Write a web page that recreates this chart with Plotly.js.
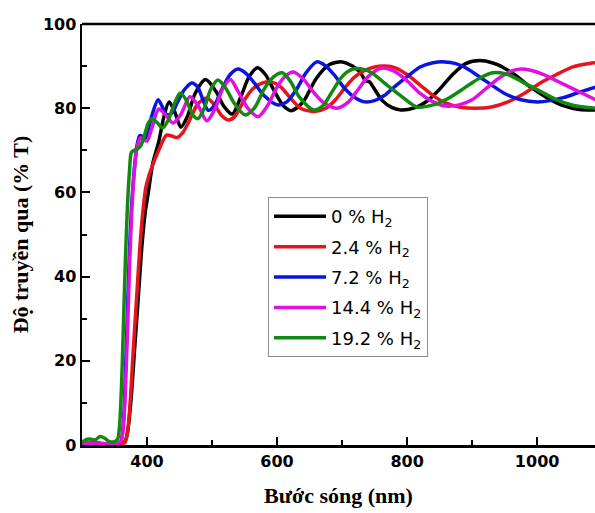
<!DOCTYPE html>
<html>
<head>
<meta charset="utf-8">
<script src="https://cdn.plot.ly/plotly-3.0.1.min.js"></script>
<style>html,body{margin:0;padding:0;background:#fff;overflow:hidden;}</style>
</head>
<body>
<div id="chart" style="width:595px;height:513px;"></div>
<script>
// Series names
const seriesNames = ["0 % H<sub>2</sub>", "2.4 % H<sub>2</sub>", "7.2 % H<sub>2</sub>", "14.4 % H<sub>2</sub>", "19.2 % H<sub>2</sub>"];

// 0 % H2 (black)
const wl0 = [300,310,320,330,340,350,360,366,370,375,381,387,392,397,402,409,418,426,434,443,452,462,474,490,506,518,531,545,557,570,582,596,610,622,640,660,680,700,716,728,736,742,750,762,776,790,810,830,850,870,890,915,940,965,990,1015,1040,1065,1090];
const T0  = [0.3,0.4,0.5,0.3,0.3,0.2,0.3,0.8,3,10,23,36,47,55,60,67,72,78,81.5,79,75.5,78,83.5,86.8,84,80.5,78.6,83,87.5,89.6,88,84,80.5,79.4,81.5,87,90.3,91,90,88.5,86.5,86.3,84.5,81.8,80.2,79.6,80,81.6,84.5,88,90.6,91.3,90.3,88,85,82.5,80.6,79.7,79.6];

// 2.4 % H2 (red)
const wl24 = [300,320,340,360,366,370,374,379,384,389,394,398,403,410,418,430,438,446,455,465,478,492,505,515,525,535,548,562,578,592,606,620,636,658,675,690,705,720,735,750,766,782,800,820,840,860,880,905,930,955,980,1005,1030,1055,1075,1090];
const T24  = [0.2,0.3,0.2,0.3,0.6,3,10,23,35,47,56,61,64,67,70,73.6,73.4,73.0,74.2,77,81,82.4,80.5,78.2,77.2,78,81.5,84.5,86,86.2,85,82.5,80,79.2,80,82,85,87.5,89,89.8,90,89.6,88,85.5,83,81.2,80.3,80,80.3,81.5,83.5,86,88,89.8,90.5,90.8];

// 7.2 % H2 (blue)
const wl72 = [300,320,340,355,360,364,367,370,373,376,379,382,385,389,393,397,402,408,417,423,430,438,447,458,469,478,486,494,503,515,528,540,552,565,580,600,615,630,645,661,675,690,705,720,735,750,765,780,800,820,840,858,875,890,910,930,950,975,1000,1020,1040,1060,1075,1090];
const T72  = [0.3,0.4,0.3,0.4,1,6,18,32,46,56,63,68,71.5,73.5,73.3,72.8,75,78.5,82,80.5,78.5,78.8,81.5,84.5,86,85,82,79.5,80.5,84.5,88,89.3,88.3,86,83,80.8,81.5,84.5,88.5,91,90,87.5,84.5,82.5,81.5,81.8,83,85,87.5,89.8,90.8,91,90.6,89.6,87.6,85.5,83.5,82,81.5,81.8,82.5,83.5,84.3,85];

// 14.4 % H2 (magenta)
const wl144 = [300,320,340,355,360,364,368,371,374,377,380,383,386,390,395,400,407,418,428,440,452,466,479,492,505,516,528,540,555,571,585,600,612,625,640,655,670,692,710,725,740,760,780,800,820,840,860,880,900,920,940,960,975,990,1010,1030,1050,1070,1090];
const T144  = [0.3,0.4,0.3,0.4,1,5,18,32,46,57,64,69,71.5,73,72.5,72.2,75,79.8,78.5,76.5,78.5,82.7,80.5,77,80,84.5,86.8,84,80,78,80.5,85,87.5,88.6,87,84,81.5,80,81.5,84.5,87.5,89.5,88.8,86.5,83.5,81.5,80.5,80.8,82,84.5,87,88.8,89.3,89,88,86.5,85,83.5,82];

// 19.2 % H2 (green)
const wl192 = [300,305,312,320,328,335,342,350,355,358,361,364,367,370,373,376,380,385,390,396,402,408,416,424,432,442,451,460,470,478,488,498,509,520,535,551,565,580,595,608,620,635,656,670,685,700,715,728,745,765,790,815,840,865,890,910,932,955,980,1005,1030,1055,1075,1090];
const T192  = [0.5,1.2,1.4,1.2,2,1.6,0.8,0.8,1.5,5,15,30,45,57,65,69.5,70,70.3,71,73.5,76.5,77.5,76.5,75.3,77,81,83.6,82,78.5,77.5,80,84.5,86.7,85,81,78.4,80,84.5,87.5,88.4,86.5,82.5,79.6,80.5,84,87.5,89.2,89.4,88.5,86,83,80.3,80.8,82.5,85,87,88.4,88,86,84,82,80.7,80.2,80];

// Axis tick values
const xTicks = [400, 600, 800, 1000];
const xMinor = [500, 700, 900];
const yTicks = [0, 20, 40, 60, 80, 100];
const yMinor = [10, 30, 50, 70, 90];

const colors = ["#000000", "#e8141c", "#0a14e0", "#e010e0", "#128a12"];
const xs = [wl0, wl24, wl72, wl144, wl192];
const ys = [T0, T24, T72, T144, T192];

const traces = xs.map((x, i) => ({
  x: x, y: ys[i], name: seriesNames[i], type: "scatter", mode: "lines",
  legendgroup: "g" + i,
  line: {color: colors[i], width: 3.5, shape: "spline", smoothing: 0.8}
}));

const tickFont = {family: "DejaVu Sans, Liberation Sans, Arial", size: 16, weight: "bold", color: "#000"};
const titleFont = {family: "Liberation Serif, Times New Roman, serif", size: 22, weight: "bold", color: "#000"};

const layout = {
  width: 595, height: 513,
  margin: {l: 82, r: 0, t: 24, b: 68, pad: 0},
  paper_bgcolor: "#fff", plot_bgcolor: "#fff",
  showlegend: true,
  legend: {
    x: 0.3626, y: 0.589, xanchor: "left", yanchor: "top",
    bgcolor: "#fff", bordercolor: "#8a8a8a", borderwidth: 1,
    font: {family: "DejaVu Sans, Liberation Sans, Arial", size: 18, color: "#000"},
    itemwidth: 52, tracegroupgap: 4
  },
  xaxis: {
    range: [300, 1089], tickvals: xTicks, ticktext: xTicks.map(String),
    ticks: "inside", ticklen: 8, tickwidth: 2, tickcolor: "#000",
    minor: {tickvals: xMinor, ticks: "inside", ticklen: 5, tickwidth: 2, tickcolor: "#000"},
    showline: true, linewidth: 2.5, linecolor: "#000",
    showgrid: false, zeroline: false, tickfont: tickFont,
    title: {text: "Bước sóng (nm)", font: titleFont, standoff: 18}
  },
  yaxis: {
    range: [0, 100], tickvals: yTicks, ticktext: yTicks.map(String),
    ticks: "inside", ticklen: 8, tickwidth: 2, tickcolor: "#000",
    minor: {tickvals: yMinor, ticks: "inside", ticklen: 5, tickwidth: 2, tickcolor: "#000"},
    showline: true, linewidth: 2.5, linecolor: "#000",
    showgrid: false, zeroline: false, tickfont: tickFont,
    title: {text: "Độ truyền qua (% T)", font: titleFont, standoff: 8}
  },
  shapes: [{type: "line", xref: "paper", yref: "paper", x0: 0, x1: 1, y0: 1, y1: 1, line: {color: "#000", width: 2.5}}]
};

Plotly.newPlot("chart", traces, layout, {displayModeBar: false, staticPlot: true});
</script>
</body>
</html>
